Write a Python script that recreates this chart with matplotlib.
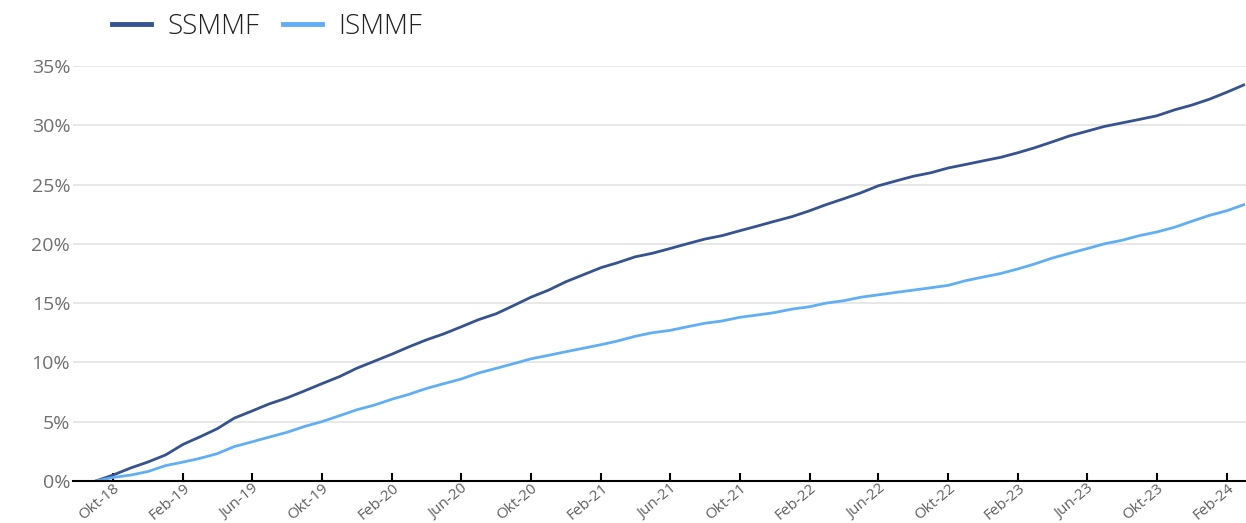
import matplotlib
matplotlib.use("Agg")
import matplotlib.pyplot as plt
import pandas as pd

# ---- data (cumulative return, %) monthly from Sep 2018 ----
start_month = "2018-09-01"
ssmmf = [0.0, 0.5, 1.1, 1.6, 2.2, 3.1, 3.7, 4.4, 5.3, 5.9, 6.5, 7.0, 7.6, 8.2,
         8.8, 9.5, 10.1, 10.7, 11.3, 11.9, 12.4, 13.0, 13.6, 14.1, 14.8, 15.5,
         16.1, 16.8, 17.4, 18.0, 18.4, 18.9, 19.2, 19.6, 20.0, 20.4, 20.7, 21.1,
         21.5, 21.9, 22.3, 22.8, 23.3, 23.8, 24.3, 24.9, 25.3, 25.7, 26.0, 26.4,
         26.7, 27.0, 27.3, 27.7, 28.1, 28.6, 29.1, 29.5, 29.9, 30.2, 30.5, 30.8,
         31.3, 31.7, 32.2, 32.8, 33.4]
ismmf = [0.0, 0.3, 0.5, 0.8, 1.3, 1.6, 1.9, 2.3, 2.9, 3.3, 3.7, 4.1, 4.6, 5.0,
         5.5, 6.0, 6.4, 6.9, 7.3, 7.8, 8.2, 8.6, 9.1, 9.5, 9.9, 10.3, 10.6,
         10.9, 11.2, 11.5, 11.8, 12.2, 12.5, 12.7, 13.0, 13.3, 13.5, 13.8, 14.0,
         14.2, 14.5, 14.7, 15.0, 15.2, 15.5, 15.7, 15.9, 16.1, 16.3, 16.5, 16.9,
         17.2, 17.5, 17.9, 18.3, 18.8, 19.2, 19.6, 20.0, 20.3, 20.7, 21.0, 21.4,
         21.9, 22.4, 22.8, 23.3]
dates = pd.date_range(start_month, periods=len(ssmmf), freq="MS")

tick_dates = pd.date_range("2018-10-01", "2024-02-01", freq="4MS")
tick_labels = ["Okt-18", "Feb-19", "Jun-19", "Okt-19", "Feb-20", "Jun-20",
               "Okt-20", "Feb-21", "Jun-21", "Okt-21", "Feb-22", "Jun-22",
               "Okt-22", "Feb-23", "Jun-23", "Okt-23", "Feb-24"]
y_ticks = [0, 5, 10, 15, 20, 25, 30, 35]
y_labels = [f"{v}%" for v in y_ticks]

dark = "#36528f"
light = "#62aef5"

plt.rcParams['font.family'] = ['Open Sans', 'DejaVu Sans']

fig = plt.figure(figsize=(12.46, 5.23), dpi=100)
ax = fig.add_axes([73/1246, 1-481/523, 1-73/1246, (481-66)/523])

l1, = ax.plot(dates, ssmmf, color=dark, lw=2.0, label="SSMMF", zorder=3)
l2, = ax.plot(dates, ismmf, color=light, lw=2.0, label="ISMMF", zorder=3)

ax.set_ylim(0, 35)
ax.set_xlim(pd.Timestamp("2018-07-23"), pd.Timestamp("2024-03-05"))
ax.set_yticks(y_ticks)
ax.set_yticklabels(y_labels, fontsize=14, color="#707070")
ax.yaxis.grid(True, color="#e6e6e6", lw=1.3)
ax.set_axisbelow(True)
ax.tick_params(axis='y', length=0, pad=2)

ax.set_xticks(tick_dates)
ax.set_xticklabels(tick_labels, rotation=40, ha='right', rotation_mode='anchor',
                   fontsize=11, color="#606060")
ax.tick_params(axis='x', direction='in', length=6, width=1.5, color='black', pad=0)

for s in ['top', 'right', 'left']:
    ax.spines[s].set_visible(False)
ax.spines['bottom'].set_color('black')
ax.spines['bottom'].set_linewidth(1.5)
ax.spines['bottom'].set_zorder(4)

leg = fig.legend(handles=[l1, l2], loc='center left', bbox_to_anchor=(112/1246, 1-27/523),
                 ncol=2, frameon=False, handlelength=1.4, handletextpad=0.6,
                 columnspacing=0.85, borderpad=0, borderaxespad=0, labelcolor="#222222",
                 prop={'family': 'Open Sans', 'size': 20, 'weight': 'light'})
for line in leg.get_lines():
    line.set_linewidth(3.5)

fig.savefig("out.png", dpi=100)
